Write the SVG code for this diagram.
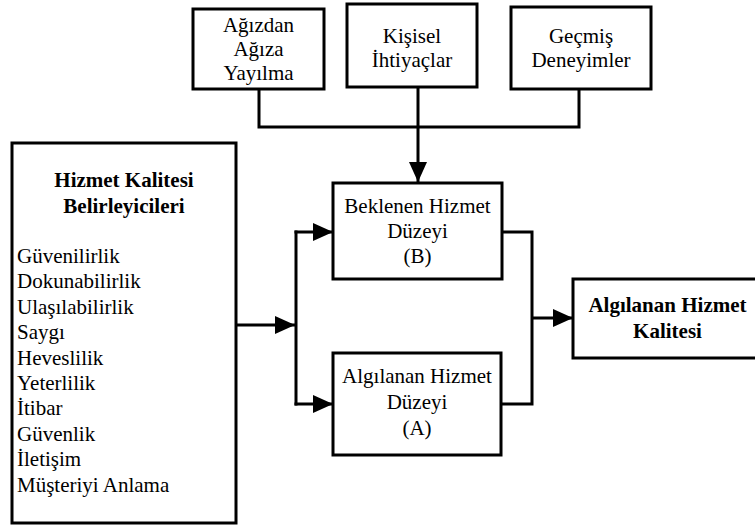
<svg xmlns="http://www.w3.org/2000/svg" width="755" height="527" viewBox="0 0 755 527">
<defs>
<style>
.box{fill:#fff;stroke:#000;stroke-width:3}
text{font-family:'Liberation Serif',serif;font-size:21px;fill:#000}
.c{text-anchor:middle}
.b{font-weight:bold}
.ln{fill:none;stroke:#000;stroke-width:3}
</style>
<marker id="ah" markerUnits="userSpaceOnUse" markerWidth="20" markerHeight="18" refX="20" refY="9" orient="auto">
<path d="M0,0 L20,9 L0,18 Z" fill="#000"/>
</marker>
</defs>
<rect width="755" height="527" fill="#fff"/>
<g id="connectors">
<polyline class="ln" points="259,89 259,127 579,127 579,89"/>
<line class="ln" x1="418" y1="87" x2="418" y2="182" marker-end="url(#ah)"/>
<line class="ln" x1="236" y1="325" x2="295" y2="325" marker-end="url(#ah)"/>
<line class="ln" x1="296" y1="230.5" x2="296" y2="405.5"/>
<line class="ln" x1="294.5" y1="232" x2="333" y2="232" marker-end="url(#ah)"/>
<line class="ln" x1="294.5" y1="404" x2="333" y2="404" marker-end="url(#ah)"/>
<polyline class="ln" points="502,232 532,232 532,404 501,404"/>
<line class="ln" x1="532" y1="318" x2="573" y2="318" marker-end="url(#ah)"/>
</g>
<g id="n-agizdan" font-family="Liberation Serif, serif">
<rect class="box" x="193" y="9" width="131" height="80"/>
<text class="c" x="258.5" y="32">Ağızdan</text>
<text class="c" x="258.5" y="56">Ağıza</text>
<text class="c" x="258.5" y="80">Yayılma</text>
</g>
<g id="n-kisisel">
<rect class="box" x="347" y="4" width="130" height="83"/>
<text class="c" x="412" y="43">Kişisel</text>
<text class="c" x="412" y="67">İhtiyaçlar</text>
</g>
<g id="n-gecmis">
<rect class="box" x="511" y="7" width="140" height="82"/>
<text class="c" x="581" y="43">Geçmiş</text>
<text class="c" x="581" y="67">Deneyimler</text>
</g>
<g id="n-belirleyiciler">
<rect class="box" x="12" y="143" width="224" height="380"/>
<text class="c b" x="124" y="187">Hizmet Kalitesi</text>
<text class="c b" x="124" y="213">Belirleyicileri</text>
<text x="17" y="263">Güvenilirlik</text>
<text x="17" y="288.4">Dokunabilirlik</text>
<text x="17" y="313.8">Ulaşılabilirlik</text>
<text x="17" y="339.2">Saygı</text>
<text x="17" y="364.6">Heveslilik</text>
<text x="17" y="390">Yeterlilik</text>
<text x="17" y="415.4">İtibar</text>
<text x="17" y="440.8">Güvenlik</text>
<text x="17" y="466.2">İletişim</text>
<text x="17" y="491.6">Müşteriyi Anlama</text>
</g>
<g id="n-beklenen">
<rect class="box" x="333" y="183" width="169" height="96"/>
<text class="c" x="417.5" y="213">Beklenen Hizmet</text>
<text class="c" x="417.5" y="238">Düzeyi</text>
<text class="c" x="417.5" y="263">(B)</text>
</g>
<g id="n-algilanan-duzey">
<rect class="box" x="333" y="353" width="168" height="102"/>
<text class="c" x="417" y="383">Algılanan Hizmet</text>
<text class="c" x="417" y="409">Düzeyi</text>
<text class="c" x="417" y="435">(A)</text>
</g>
<g id="n-algilanan-kalite">
<rect class="box" x="573" y="279" width="200" height="79"/>
<text class="c b" x="667.5" y="312">Algılanan Hizmet</text>
<text class="c b" x="667.5" y="338">Kalitesi</text>
</g>
</svg>
